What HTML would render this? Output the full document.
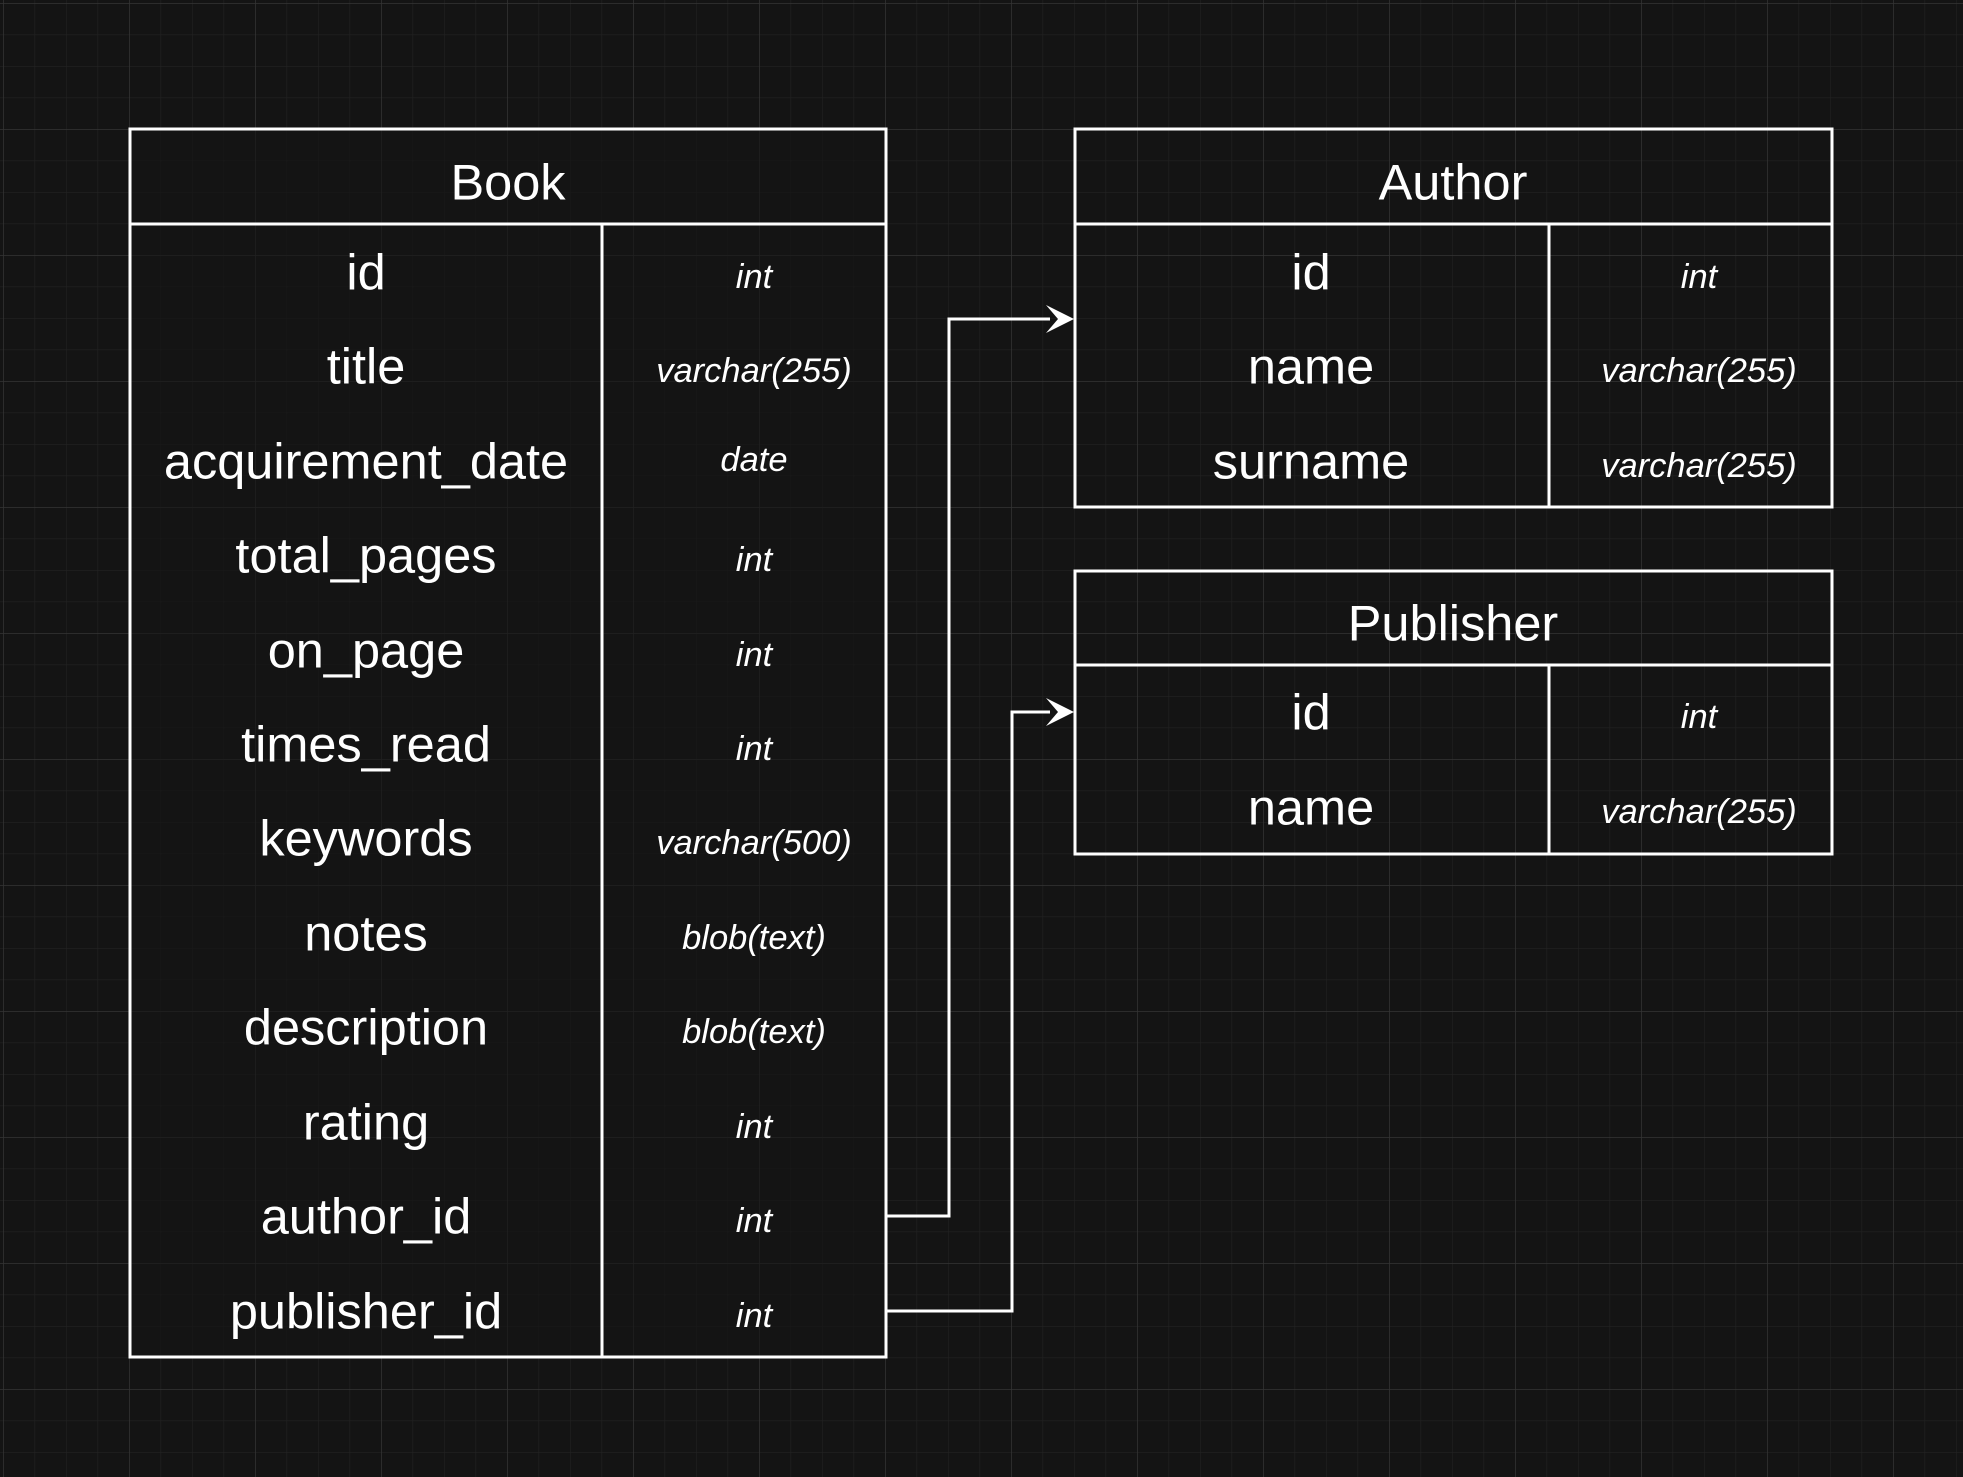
<!DOCTYPE html>
<html><head><meta charset="utf-8"><style>
html,body{margin:0;padding:0;background:#141414;}
svg{display:block}
text{font-family:"Liberation Sans",Arial,sans-serif;fill:#fff}
.n{font-size:50.5px;text-anchor:middle;dominant-baseline:central}
.t{font-size:34.5px;font-style:italic;text-anchor:middle;dominant-baseline:central}
</style></head><body>
<svg width="1963" height="1477" viewBox="0 0 1963 1477" xmlns="http://www.w3.org/2000/svg">
<defs>
<pattern id="mi" x="3" y="3" width="31.5" height="31.5" patternUnits="userSpaceOnUse">
<path d="M0 0H31.5M0 0V31.5" stroke="#222" stroke-width="1.2" fill="none"/></pattern>
<pattern id="ma" x="3" y="3" width="126" height="126" patternUnits="userSpaceOnUse">
<path d="M0 0H126M0 0V126" stroke="#333" stroke-width="1.5" fill="none"/></pattern>
</defs>
<rect width="1963" height="1477" fill="#141414"/>
<rect width="1963" height="1477" fill="url(#mi)"/>
<rect width="1963" height="1477" fill="url(#ma)"/>

<g fill="none" stroke="#fff" stroke-width="3">
<rect x="130" y="129" width="756" height="1228" fill="#141414" fill-opacity="0.6"/>
<line x1="130" y1="224" x2="886" y2="224"/>
<line x1="602" y1="224" x2="602" y2="1357"/>
<rect x="1075" y="129" width="757" height="378"/>
<line x1="1075" y1="224" x2="1832" y2="224"/>
<line x1="1549" y1="224" x2="1549" y2="507"/>
<rect x="1075" y="571" width="757" height="283"/>
<line x1="1075" y1="665" x2="1832" y2="665"/>
<line x1="1549" y1="665" x2="1549" y2="854"/>
<polyline points="886,1216 949,1216 949,319 1050,319"/>
<polyline points="886,1311 1012,1311 1012,712 1050,712"/>
</g>
<polygon points="1074,319 1046,305 1058,319 1046,333" fill="#fff"/>
<polygon points="1074,712 1046,698 1058,712 1046,726" fill="#fff"/>

<text class="n" x="508" y="182">Book</text>
<text class="n" x="1453" y="182">Author</text>
<text class="n" x="1453" y="623">Publisher</text>

<g>
<text class="n" x="366" y="272">id</text>
<text class="n" x="366" y="366">title</text>
<text class="n" x="366" y="461">acquirement_date</text>
<text class="n" x="366" y="555">total_pages</text>
<text class="n" x="366" y="650">on_page</text>
<text class="n" x="366" y="744">times_read</text>
<text class="n" x="366" y="838">keywords</text>
<text class="n" x="366" y="933">notes</text>
<text class="n" x="366" y="1027">description</text>
<text class="n" x="366" y="1122">rating</text>
<text class="n" x="366" y="1216">author_id</text>
<text class="n" x="366" y="1311">publisher_id</text>

<text class="t" x="754" y="277">int</text>
<text class="t" x="754" y="371">varchar(255)</text>
<text class="t" x="754" y="460">date</text>
<text class="t" x="754" y="560">int</text>
<text class="t" x="754" y="655">int</text>
<text class="t" x="754" y="749">int</text>
<text class="t" x="754" y="843">varchar(500)</text>
<text class="t" x="754" y="938">blob(text)</text>
<text class="t" x="754" y="1032">blob(text)</text>
<text class="t" x="754" y="1127">int</text>
<text class="t" x="754" y="1221">int</text>
<text class="t" x="754" y="1316">int</text>

<text class="n" x="1311" y="272">id</text>
<text class="n" x="1311" y="366">name</text>
<text class="n" x="1311" y="461">surname</text>
<text class="t" x="1699" y="277">int</text>
<text class="t" x="1699" y="371">varchar(255)</text>
<text class="t" x="1699" y="466">varchar(255)</text>

<text class="n" x="1311" y="712">id</text>
<text class="n" x="1311" y="807">name</text>
<text class="t" x="1699" y="717">int</text>
<text class="t" x="1699" y="812">varchar(255)</text>
</g>
</svg>
</body></html>
